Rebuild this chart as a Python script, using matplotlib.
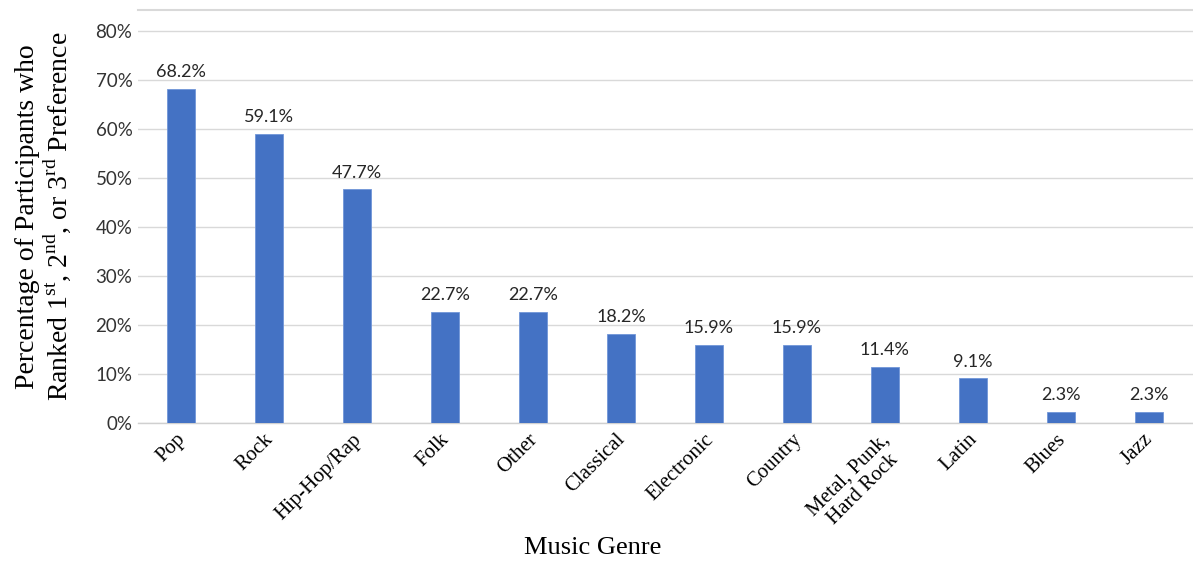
import matplotlib
matplotlib.use('Agg')
import matplotlib.pyplot as plt
from matplotlib.ticker import FuncFormatter
from matplotlib.transforms import ScaledTranslation

genres = ['Pop', 'Rock', 'Hip-Hop/Rap', 'Folk', 'Other', 'Classical', 'Electronic',
          'Country', 'Metal, Punk,\nHard Rock', 'Latin', 'Blues', 'Jazz']
percent = [68.2, 59.1, 47.7, 22.7, 22.7, 18.2, 15.9, 15.9, 11.4, 9.1, 2.3, 2.3]
y_ticks = [0, 10, 20, 30, 40, 50, 60, 70, 80]

plt.rcParams['mathtext.fontset'] = 'custom'
plt.rcParams['mathtext.rm'] = 'Liberation Serif'

SERIF = 'Liberation Serif'
SANS = 'Lato'

fig = plt.figure(figsize=(11.93, 5.64), dpi=100)
ax = fig.add_axes([0.1157, 0.25, 0.884, 0.732])

x = range(len(genres))
ax.bar(x, percent, width=0.32, color='#4472C4', edgecolor='#7196d8', linewidth=0.6, zorder=3)

for i, v in zip(x, percent):
    ax.text(i, v + 1.8, f'{v:.1f}%', ha='center', va='bottom', fontsize=13,
            family=SANS, color='#262626', zorder=4)

ax.set_xlim(-0.49, 11.5)
ax.set_ylim(0, 84.3)
ax.set_yticks(y_ticks)
ax.yaxis.set_major_formatter(FuncFormatter(lambda v, p: f'{v:.0f}%'))
ax.grid(axis='y', color='#d9d9d9', linewidth=1, zorder=0)
ax.axhline(84.3, color='#d9d9d9', linewidth=1.5, clip_on=False)

for s in ['top', 'right', 'left']:
    ax.spines[s].set_visible(False)
ax.spines['bottom'].set_color('#d0d0d0')
ax.spines['bottom'].set_linewidth(1)

ax.tick_params(axis='y', length=0, pad=4, labelsize=13.5, labelcolor='#333333')
for lab in ax.get_yticklabels():
    lab.set_family(SANS)

ax.set_xticks(list(x))
ax.set_xticklabels(genres, rotation=45, ha='right', rotation_mode='anchor',
                   family=SERIF, fontsize=15, multialignment='center', linespacing=1.15)
ax.tick_params(axis='x', length=0, pad=5)
# nudge the rotated labels a little to the left, as in the original
shift = ScaledTranslation(-5 / 100, 0, fig.dpi_scale_trans)
for lab in ax.get_xticklabels():
    lab.set_transform(lab.get_transform() + shift)

ax.set_ylabel('Percentage of Participants who\n'
              'Ranked 1$^{\\mathrm{st}}$, 2$^{\\mathrm{nd}}$, or 3$^{\\mathrm{rd}}$ Preference',
              family=SERIF, fontsize=20, labelpad=16, linespacing=1.05)
fig.text(0.497, 0.028, 'Music Genre', ha='center', va='center', family=SERIF, fontsize=19)

fig.savefig('out.png', dpi=100)
